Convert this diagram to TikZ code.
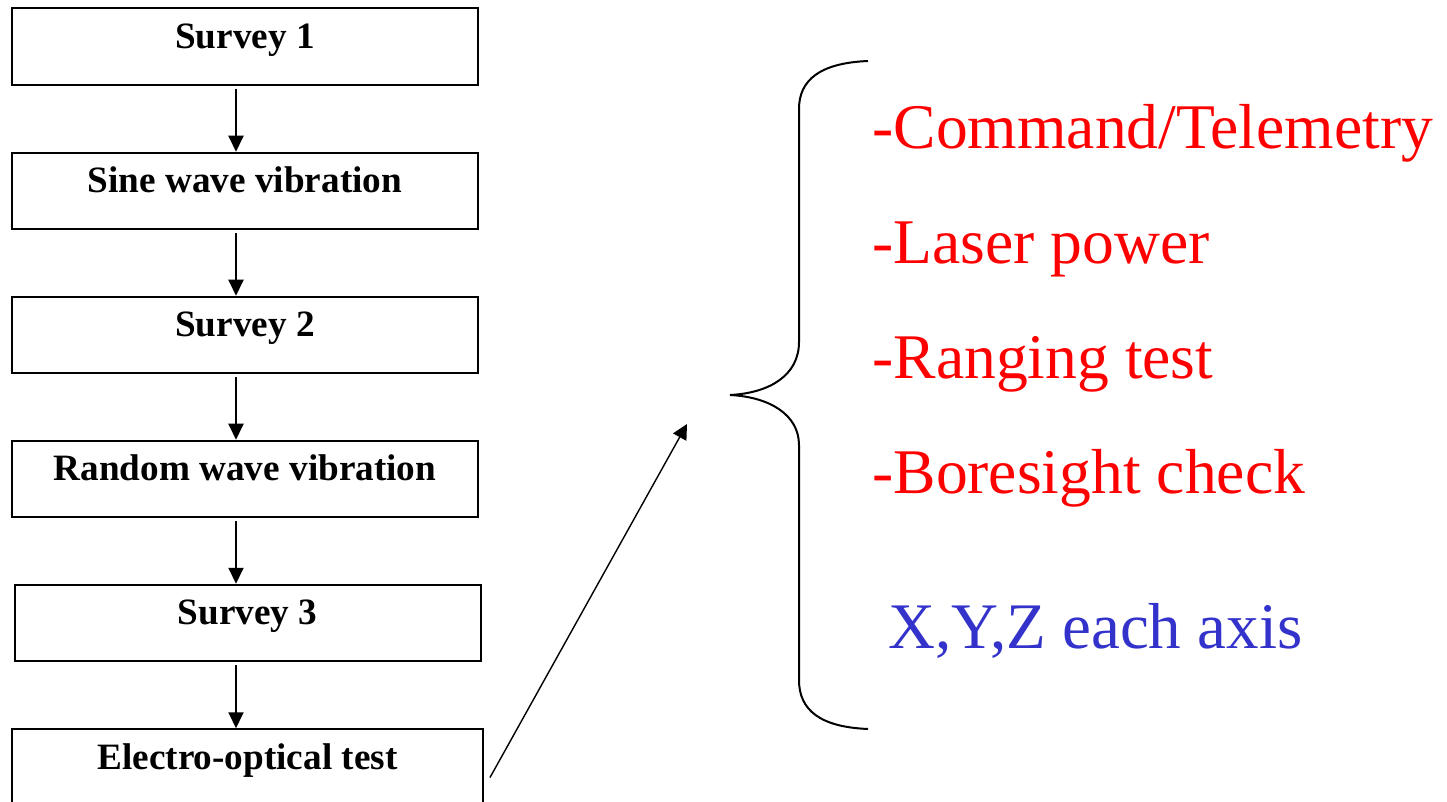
\documentclass[tikz,border=0pt]{standalone}
\usepackage{fontspec}
\setmainfont{Liberation Serif}
\definecolor{ink}{HTML}{000000}
\definecolor{hot}{HTML}{FF0000}
\definecolor{axisblue}{HTML}{3333CC}
\usetikzlibrary{arrows.meta, positioning, calc}
\tikzset{
  stage/.style={draw=ink, line width=1pt, minimum width=233pt, inner xsep=2pt, inner ysep=0pt,
                text height=20pt, text depth=18.25pt, font=\fontsize{18.6}{22}\selectfont\bfseries},
  flow/.style={-{Triangle[length=8pt,width=7.5pt]}, line width=1pt, color=ink},
  thin flow/.style={-{Triangle[length=7.5pt,width=7.5pt]}, line width=0.7pt, color=ink},
  item/.style={anchor=base west, inner sep=0pt, font=\fontsize{31.8}{38}\selectfont},
}
\begin{document}
\begin{tikzpicture}[x=0.5pt,y=-0.5pt]
        \clip (0,0) rectangle (1447,802);
        % test sequence
        \node[stage] (s1) at (245,46.5) {Survey 1};
        \node[stage] (sine) at (245,191) {Sine wave vibration};
        \node[stage] (s2) at (245,335) {Survey 2};
        \node[stage] (rand) at (245,479) {Random wave vibration};
        \node[stage] (s3) at (247.5,623) {Survey 3};
        \node[stage,minimum width=235.5pt] (eo) at (247.5,767.5) {Electro-optical test};
        \coordinate (ax) at (236,0);
        \draw[flow] ([yshift=-1.5pt]s1.south -| ax)--(sine.north -| ax);
        \draw[flow] ([yshift=-1.5pt]sine.south -| ax)--(s2.north -| ax);
        \draw[flow] ([yshift=-1.5pt]s2.south -| ax)--(rand.north -| ax);
        \draw[flow] ([yshift=-1.5pt]rand.south -| ax)--(s3.north -| ax);
        \draw[flow] ([yshift=-1.5pt]s3.south -| ax)--(eo.north -| ax);
        % brace with the checks
        \coordinate (tip) at (730,395);
        \coordinate (pt) at (687,424);
        \draw[thin flow] ([xshift=3pt,yshift=-5pt]eo.east)--(pt);
        \draw[line width=1pt] (868,61) .. controls (820,63) and (799,80) .. (799,109)
              -- (799,342) .. controls (799,375) and (770,393) .. (tip)
              .. controls (770,397) and (799,415) .. (799,445)
              -- (799,680) .. controls (799,710) and (820,727) .. (868,729);
        \node[item,text=hot] (cmd) at (872,149) {-Command/Telemetry};
        \node[item,text=hot] (laser) at (872,264) {-Laser power};
        \node[item,text=hot] (rng) at (872,379) {-Ranging test};
        \node[item,text=hot] (bore) at (872,494) {-Boresight check};
        \node[item,text=axisblue,font=\fontsize{32.5}{38}\selectfont] (xyz) at (888,648) {X,Y,Z each axis};
      \end{tikzpicture}
\end{document}
